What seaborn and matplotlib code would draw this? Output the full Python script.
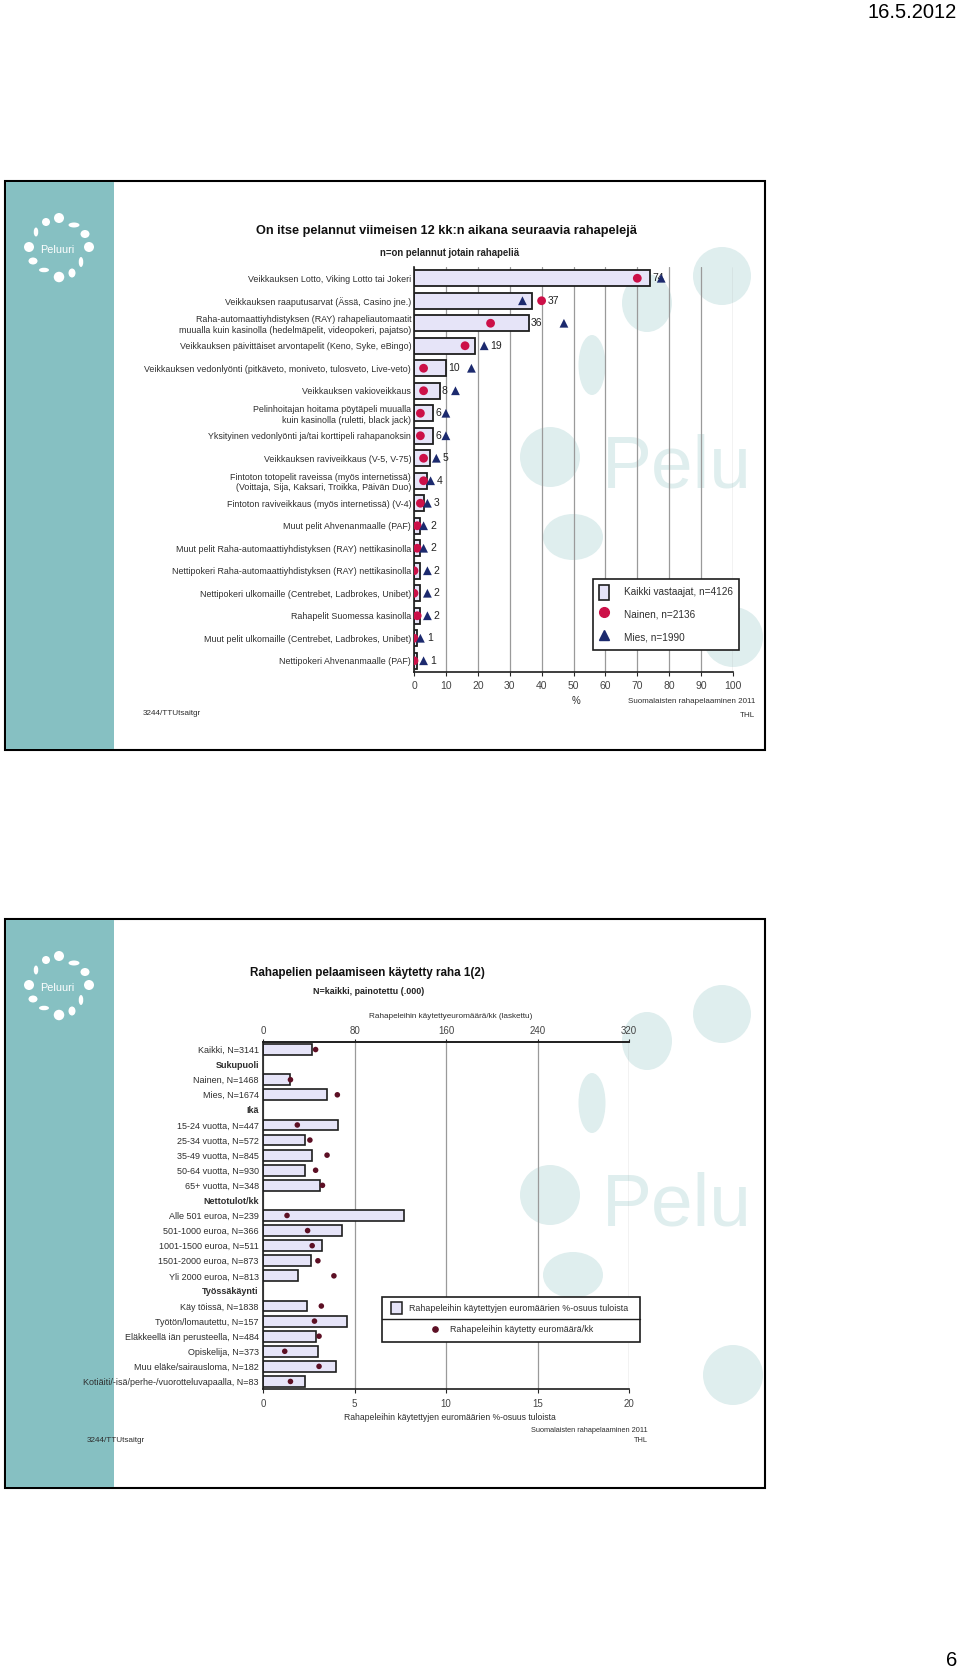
import numpy as np
import pandas as pd
import matplotlib.pyplot as plt
import seaborn as sns
from matplotlib.patches import Rectangle, Ellipse, Patch
from matplotlib.lines import Line2D

W, H = 960, 1672

# Slide 1: played games during last 12 months, %
games = [
    "Veikkauksen Lotto, Viking Lotto tai Jokeri",
    "Veikkauksen raaputusarvat (Ässä, Casino jne.)",
    "Raha-automaattiyhdistyksen (RAY) rahapeliautomaatit\nmuualla kuin kasinolla (hedelmäpelit, videopokeri, pajatso)",
    "Veikkauksen päivittäiset arvontapelit (Keno, Syke, eBingo)",
    "Veikkauksen vedonlyönti (pitkäveto, moniveto, tulosveto, Live-veto)",
    "Veikkauksen vakioveikkaus",
    "Pelinhoitajan hoitama pöytäpeli muualla\nkuin kasinolla (ruletti, black jack)",
    "Yksityinen vedonlyönti ja/tai korttipeli rahapanoksin",
    "Veikkauksen raviveikkaus (V-5, V-75)",
    "Fintoton totopelit raveissa (myös internetissä)\n(Voittaja, Sija, Kaksari, Troikka, Päivän Duo)",
    "Fintoton raviveikkaus (myös internetissä) (V-4)",
    "Muut pelit Ahvenanmaalle (PAF)",
    "Muut pelit Raha-automaattiyhdistyksen (RAY) nettikasinolla",
    "Nettipokeri Raha-automaattiyhdistyksen (RAY) nettikasinolla",
    "Nettipokeri ulkomaille (Centrebet, Ladbrokes, Unibet)",
    "Rahapelit Suomessa kasinolla",
    "Muut pelit ulkomaille (Centrebet, Ladbrokes, Unibet)",
    "Nettipokeri Ahvenanmaalle (PAF)",
]
kaikki = [74, 37, 36, 19, 10, 8, 6, 6, 5, 4, 3, 2, 2, 2, 2, 2, 1, 1]
nainen = [70, 40, 24, 16, 3, 3, 2, 2, 3, 3, 2, 1, 1, 0, 0, 1, 0, 0]
mies = [77.5, 34, 47, 22, 18, 13, 10, 10, 7, 5.2, 4.2, 3, 3, 4.2, 4.2, 4.2, 2, 3]

# Slide 2: money spent on gambling
groups = [
    "Kaikki, N=3141", "Sukupuoli", "Nainen, N=1468", "Mies, N=1674", "Ikä",
    "15-24 vuotta, N=447", "25-34 vuotta, N=572", "35-49 vuotta, N=845",
    "50-64 vuotta, N=930", "65+ vuotta, N=348", "Nettotulot/kk",
    "Alle 501 euroa, N=239", "501-1000 euroa, N=366", "1001-1500 euroa, N=511",
    "1501-2000 euroa, N=873", "Yli 2000 euroa, N=813", "Työssäkäynti",
    "Käy töissä, N=1838", "Työtön/lomautettu, N=157",
    "Eläkkeellä iän perusteella, N=484", "Opiskelija, N=373",
    "Muu eläke/sairausloma, N=182", "Kotiäiti/-isä/perhe-/vuorotteluvapaalla, N=83",
]
headers = ["Sukupuoli", "Ikä", "Nettotulot/kk", "Työssäkäynti"]
osuus = [2.7, np.nan, 1.5, 3.5, np.nan, 4.1, 2.3, 2.7, 2.3, 3.1, np.nan,
         7.7, 4.3, 3.2, 2.6, 1.9, np.nan, 2.4, 4.6, 2.9, 3.0, 4.0, 2.3]
euroa = [46, np.nan, 24, 65, np.nan, 30, 41, 56, 46, 52, np.nan,
         21, 39, 43, 48, 62, np.nan, 51, 45, 49, 19, 49, 24]

sns.set_style("white")
plt.rcParams["font.family"] = ["Liberation Sans", "DejaVu Sans"]

bar_fill = "#e6e4f8"
bar_edge = "#1e1e1e"
red = "#cc1048"
navy = "#1c2a6e"
maroon = "#5c0f24"
teal = "#86c0c2"
wm = "#dfeeee"
txt = "#2e2e2e"

fig = plt.figure(figsize=(W / 100, H / 100), dpi=100)


def fbox(x0, y0, x1, y1):
    return [x0 / W, 1 - y1 / H, (x1 - x0) / W, (y1 - y0) / H]


def ftext(x, y, s, **kw):
    fig.text(x / W, 1 - y / H, s, **kw)


# background layer in pixel coordinates (slide frames, sidebar, watermark)
bg = fig.add_axes([0, 0, 1, 1], zorder=-1)
bg.set_xlim(0, W)
bg.set_ylim(H, 0)
bg.axis("off")

logo_dots = [(0, -31, 10, 10), (-13, -27, 8, 8), (15, -24, 11, 5), (26, -15, 9, 8),
             (-23, -17, 4.5, 9), (-30, -2, 10, 10), (30, -2, 10, 10), (-26, 12, 9, 7),
             (22, 13, 4.5, 10), (-15, 21, 10, 4.5), (0, 28, 10.5, 10.5), (13, 24, 7, 9)]
marks = [(717, 95, 58, 58), (642, 122, 50, 58), (587, 184, 27, 60),
         (545, 276, 60, 60), (568, 356, 60, 46), (728, 456, 60, 60)]


def slide(top):
    frame = Rectangle((5, top), 760, 569, fc="white", ec="black", lw=1.5)
    bg.add_patch(frame)
    bg.add_patch(Rectangle((6, top + 1), 108, 567, fc=teal, ec="none"))
    for cx, cy, w, h in marks:
        bg.add_patch(Ellipse((cx + 5, top + cy), w, h, fc=wm, ec="none"))
    t = bg.text(602, top + 306, "Pelu", fontsize=54, color=wm, va="baseline")
    t.set_clip_path(frame)
    cx, cy = 59, top + 68
    for dx, dy, w, h in logo_dots:
        bg.add_patch(Ellipse((cx + dx, cy + dy), w, h, fc="white", ec="none"))
    bg.text(cx - 2, cy + 1, "Peluuri", color="white", fontsize=7.8,
            ha="center", va="center")


slide(181)
slide(919)

# ---------------- chart 1 ----------------
ax1 = fig.add_axes(fbox(414, 267, 733, 672))
ax1.set_facecolor("none")
df1 = pd.DataFrame({"peli": games, "kaikki": kaikki, "nainen": nainen, "mies": mies})
pos1 = np.arange(len(games))
sns.barplot(data=df1, x="kaikki", y="peli", orient="h", color=bar_fill,
            edgecolor=bar_edge, linewidth=1.3, width=0.72, saturation=1,
            ax=ax1, zorder=2)
sns.scatterplot(x=nainen, y=pos1, ax=ax1, marker="o", s=40, color=red,
                edgecolor="none", zorder=4, legend=False)
sns.scatterplot(x=mies, y=pos1, ax=ax1, marker="^", s=40, color=navy,
                edgecolor="none", zorder=4, legend=False)

for i, (k, n_, m) in enumerate(zip(kaikki, nainen, mies)):
    near = [v for v in (n_, m) if k < v <= k + 3.3]
    x = max(near) + 2 if near else k + 0.6
    ax1.text(x, i, str(k), va="center", ha="left", fontsize=7.5, color="#222222",
             zorder=3)

ax1.set_xlim(0, 100)
ax1.set_ylim(len(games) - 0.5, -0.5)
ax1.set_xticks(range(0, 101, 10))
ax1.set_yticks(pos1)
ax1.set_yticklabels(games, fontsize=6.4, color=txt, linespacing=1.25)
ax1.set_xlabel("")
ax1.set_ylabel("")
ax1.set_axisbelow(True)
ax1.grid(axis="x", color="#9a9a9a", lw=0.9)
ax1.tick_params(axis="y", length=0, pad=2)
ax1.tick_params(axis="x", length=3, pad=3.5, labelsize=7.5, labelcolor="#444444",
                direction="out", bottom=True)
for s in ["top", "right"]:
    ax1.spines[s].set_visible(False)
for s in ["left", "bottom"]:
    ax1.spines[s].set_color("#1e1e1e")
    ax1.spines[s].set_linewidth(1.2)

leg1 = ax1.legend(
    handles=[
        Patch(fc=bar_fill, ec=bar_edge, lw=1.2, label="Kaikki vastaajat, n=4126"),
        Line2D([], [], marker="o", ls="", color=red, ms=7, label="Nainen, n=2136"),
        Line2D([], [], marker="^", ls="", color=navy, ms=7, label="Mies, n=1990"),
    ],
    loc="upper left", bbox_to_anchor=(593 / W, 1 - 579 / H),
    bbox_transform=fig.transFigure, frameon=True, fancybox=False,
    edgecolor="#1e1e1e", framealpha=1, fontsize=7.2, borderpad=0.56,
    labelspacing=0.74, handlelength=1.0, handleheight=1.93, handletextpad=1.55,
    borderaxespad=0)
leg1.get_frame().set_linewidth(1.2)
for t in leg1.get_texts():
    t.set_color(txt)

ftext(446, 231, "On itse pelannut viimeisen 12 kk:n aikana seuraavia rahapelejä",
      ha="center", va="center", fontsize=9.2, fontweight="bold", color="#111111")
ftext(450, 253, "n=on pelannut jotain rahapeliä", ha="center", va="center",
      fontsize=6.9, fontweight="bold", color="#222222")
ftext(576, 701, "%", ha="center", va="center", fontsize=7, color=txt)
ftext(755, 702, "Suomalaisten rahapelaaminen 2011", ha="right", va="center",
      fontsize=5.8, color=txt)
ftext(755, 716, "THL", ha="right", va="center", fontsize=5.8, color=txt)
ftext(143, 714, "3244/TTUtsaitgr", ha="left", va="center", fontsize=5.9, color=txt)

# ---------------- chart 2 ----------------
ax2 = fig.add_axes(fbox(263, 1042, 629, 1389))
ax2.set_facecolor("none")
df2 = pd.DataFrame({"ryhma": groups, "osuus": osuus, "euroa": euroa})
pos2 = np.arange(len(groups))
sns.barplot(data=df2, x="osuus", y="ryhma", order=groups, orient="h",
            color=bar_fill, edgecolor=bar_edge, linewidth=1.2, width=0.72,
            saturation=1, ax=ax2, zorder=2)
ax2.set_xlim(0, 20)
ax2.set_xticks([0, 5, 10, 15, 20])
ax2.set_yticks(pos2)
ax2.set_yticklabels(groups, fontsize=6.5, color=txt)
for lab in ax2.get_yticklabels():
    if lab.get_text() in headers:
        lab.set_fontweight("bold")
ax2.set_xlabel("")
ax2.set_ylabel("")
ax2.set_axisbelow(True)
ax2.grid(axis="x", color="#9a9a9a", lw=0.9)
ax2.tick_params(axis="y", length=0, pad=3)
ax2.tick_params(axis="x", length=3, pad=4.5, labelsize=7, labelcolor="#444444",
                bottom=True)
ax2.spines["right"].set_visible(False)
for s in ["left", "bottom", "top"]:
    ax2.spines[s].set_color("#1e1e1e")
    ax2.spines[s].set_linewidth(1.2)

ax2t = ax2.twiny()
sns.scatterplot(x=euroa, y=pos2, ax=ax2t, marker="o", s=16, color=maroon,
                edgecolor="none", zorder=4, legend=False)
ax2t.set_xlim(0, 320)
ax2t.set_xticks([0, 80, 160, 240, 320])
ax2t.set_ylim(len(groups) - 0.5, -0.5)
ax2.set_ylim(len(groups) - 0.5, -0.5)
ax2t.tick_params(axis="x", length=2, pad=2.5, labelsize=7, labelcolor="#444444",
                 top=True)
ax2t.set_xlabel("")
for s in ["right", "left", "bottom"]:
    ax2t.spines[s].set_visible(False)
ax2t.spines["top"].set_color("#1e1e1e")
ax2t.spines["top"].set_linewidth(1.2)

# legend of chart 2: framed box with a divider between entries
fig.add_artist(Rectangle((382 / W, 1 - 1342 / H), 258 / W, 45 / H,
                         transform=fig.transFigure, fc="white", ec="#1e1e1e",
                         lw=1.2, zorder=4))
fig.add_artist(Line2D([382 / W, 640 / W], [1 - 1319 / H, 1 - 1319 / H],
                      transform=fig.transFigure, color="#1e1e1e", lw=1.0,
                      zorder=4))
fig.legend(handles=[Patch(fc=bar_fill, ec=bar_edge, lw=1.1,
                          label="Rahapeleihin käytettyjen euromäärien %-osuus tuloista")],
           loc="center left", bbox_to_anchor=(391 / W, 1 - 1308 / H),
           frameon=False, fontsize=6.4, borderpad=0, borderaxespad=0,
           handlelength=1.25, handleheight=1.7, handletextpad=0.8,
           labelcolor=txt)
fig.legend(handles=[Line2D([], [], marker="o", ls="", color=maroon, ms=3.8,
                           label="Rahapeleihin käytetty euromäärä/kk")],
           loc="center left", bbox_to_anchor=(431 / W, 1 - 1330 / H),
           frameon=False, fontsize=6.4, borderpad=0, borderaxespad=0,
           handlelength=1.0, handletextpad=1.1, labelcolor=txt)

ftext(367, 973, "Rahapelien pelaamiseen käytetty raha 1(2)", ha="center",
      va="center", fontsize=8.4, fontweight="bold", color="#111111")
ftext(369, 992, "N=kaikki, painotettu (.000)", ha="center", va="center",
      fontsize=6.4, fontweight="bold", color="#222222")
ftext(451, 1017, "Rahapeleihin käytettyeuromäärä/kk (laskettu)", ha="center",
      va="center", fontsize=5.9, color=txt)
ftext(450, 1417, "Rahapeleihin käytettyjen euromäärien %-osuus tuloista",
      ha="center", va="center", fontsize=6.25, color=txt)
ftext(648, 1430, "Suomalaisten rahapelaaminen 2011", ha="right", va="center",
      fontsize=5.3, color=txt)
ftext(648, 1440, "THL", ha="right", va="center", fontsize=5.3, color=txt)
ftext(87, 1441, "3244/TTUtsaitgr", ha="left", va="center", fontsize=5.9, color=txt)

# page header and number
ftext(957, 13, "16.5.2012", ha="right", va="center", fontsize=14.5, color="black")
ftext(957, 1661, "6", ha="right", va="center", fontsize=14.5, color="black")

fig.savefig("out.png", dpi=100)
